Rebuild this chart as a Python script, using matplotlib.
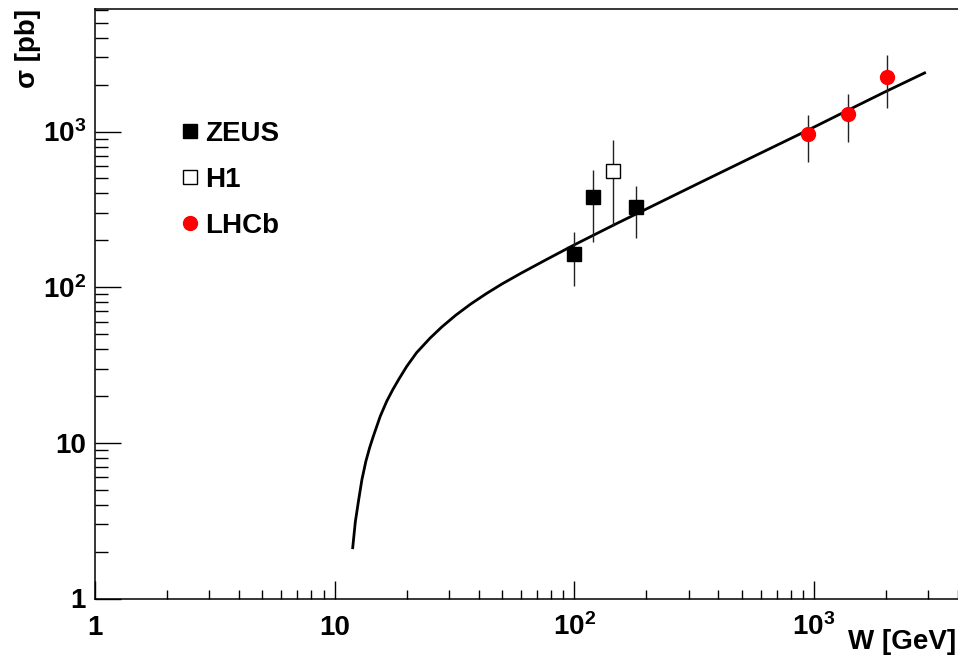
import matplotlib
matplotlib.use("Agg")
import matplotlib.pyplot as plt
from matplotlib.ticker import FixedLocator, FixedFormatter, NullFormatter

plt.rcParams["font.family"] = ["Liberation Sans", "DejaVu Sans"]
plt.rcParams["font.weight"] = "bold"
plt.rcParams["mathtext.fontset"] = "custom"
plt.rcParams["mathtext.bf"] = "Liberation Sans:bold"
plt.rcParams["mathtext.rm"] = "Liberation Sans:bold"

# model curve
curve_w = [11.9, 12.2, 12.6, 13.0, 13.5, 14.0, 14.5, 15.5, 16.5, 17.5, 18.5,
           20, 22, 25, 28, 32, 37, 43, 50, 60, 75, 100, 150, 200, 340, 540,
           950, 1400, 2000, 2900]
curve_sigma = [2.12, 3.1, 4.3, 5.8, 7.6, 9.3, 11.0, 14.8, 18.5, 22.0, 25.5,
               31, 38, 47, 55.5, 66, 78, 91, 105, 123, 148, 187, 256, 318,
               475, 672, 1025, 1380, 1810, 2380]

zeus_w = [100, 120, 181]
zeus_sigma = [164, 380, 327]
zeus_err = [62, 186, 120]

h1_w = [145]
h1_sigma = [561]
h1_err = [315]

lhcb_w = [948, 1384, 2014]
lhcb_sigma = [961, 1303, 2251]
lhcb_err = [323, 445, 830]

major_ticks = [1, 10, 100, 1000]
major_labels = ["1", "10", r"$\mathbf{10^{2}}$", r"$\mathbf{10^{3}}$"]

fig = plt.figure(figsize=(9.58, 6.58), dpi=100)
ax = fig.add_axes([95 / 958, 59.5 / 658, 873 / 958, 589.2 / 658])
ax.set_xscale("log")
ax.set_yscale("log")
ax.set_xlim(1, 4400)
ax.set_ylim(1, 6100)

ax.plot(curve_w, curve_sigma, color="black", lw=2.0, zorder=2)

err_kw = dict(fmt="none", ecolor="#222222", elinewidth=1.0, capsize=0, zorder=3)
ax.errorbar(zeus_w, zeus_sigma, yerr=zeus_err, **err_kw)
ax.errorbar(h1_w, h1_sigma, yerr=h1_err, **err_kw)
ax.errorbar(lhcb_w, lhcb_sigma, yerr=lhcb_err, **err_kw)

ax.plot(zeus_w, zeus_sigma, ls="none", marker="s", ms=9.5, color="black",
        label="ZEUS", zorder=4)
ax.plot(h1_w, h1_sigma, ls="none", marker="s", ms=9.5, mfc="white",
        mec="black", mew=1.0, label="H1", zorder=4)
ax.plot(lhcb_w, lhcb_sigma, ls="none", marker="o", ms=10, color="red",
        mec="red", label="LHCb", zorder=4)

leg = ax.legend(loc="upper left", bbox_to_anchor=(0.0993, 0.811),
                frameon=False, fontsize=20, handlelength=0.6,
                handletextpad=0.24, labelspacing=0.72, borderpad=0,
                borderaxespad=0)

minor = [m * 10 ** e for e in range(0, 4) for m in range(2, 10)]
for axis in (ax.xaxis, ax.yaxis):
    axis.set_major_locator(FixedLocator(major_ticks))
    axis.set_major_formatter(FixedFormatter(major_labels))
    axis.set_minor_locator(FixedLocator(minor))
    axis.set_minor_formatter(NullFormatter())

ax.tick_params(axis="both", which="both", direction="in", width=1.0,
               labelsize=20, top=False, right=False)
ax.tick_params(axis="x", which="major", length=13, pad=26)
ax.tick_params(axis="x", which="minor", length=6.5)
ax.tick_params(axis="y", which="major", length=19, pad=6.5)
ax.tick_params(axis="y", which="minor", length=9.2)
for lbl in ax.get_xticklabels():
    lbl.set_fontweight("bold")
    lbl.set_verticalalignment("baseline")
for lbl in ax.get_yticklabels():
    lbl.set_fontweight("bold")

for side in ax.spines.values():
    side.set_linewidth(1.1)

ax.set_xlabel("W [GeV]", fontsize=20, fontweight="bold")
ax.xaxis.label.set(ha="right", va="center")
ax.xaxis.set_label_coords(0.986, -0.0738)

ax.set_ylabel("σ [pb]", fontsize=20, fontweight="bold")
ax.yaxis.label.set(rotation_mode="default", ha="center", va="top")
ax.yaxis.set_label_coords(-0.0767, 1.0)

fig.savefig("out.png", dpi=100)
